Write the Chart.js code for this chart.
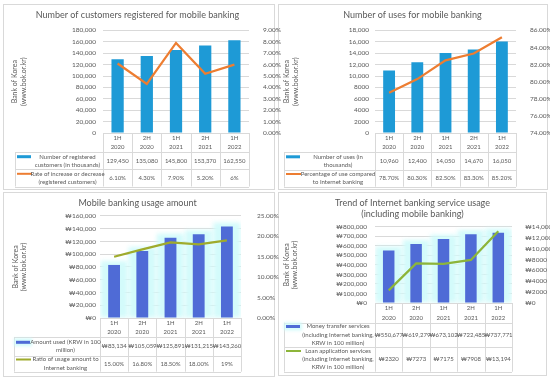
<!DOCTYPE html>
<html>
<head>
<meta charset="utf-8">
<script src="https://cdn.jsdelivr.net/npm/chart.js@4.4.0/dist/chart.umd.min.js"></script>
<style>
  body { margin: 0; background: #fff; }
  #page { position: relative; width: 550px; height: 381px; overflow: hidden; }
  .panel { position: absolute; border: 1px solid #d9d9d9; box-sizing: border-box; }
  canvas { position: absolute; left: 0; top: 0; }
</style>
</head>
<body>
<div id="page">
  <div class="panel" style="left:3px;top:4px;width:272px;height:186px"></div>
  <div class="panel" style="left:278px;top:4px;width:270px;height:186px"></div>
  <div class="panel" style="left:3px;top:192px;width:272px;height:185px"></div>
  <div class="panel" style="left:278px;top:192px;width:269px;height:184px"></div>
  <canvas id="customersChart" width="550" height="381"></canvas>
  <canvas id="usesChart" width="550" height="381"></canvas>
  <canvas id="amountChart" width="550" height="381"></canvas>
  <canvas id="serviceChart" width="550" height="381"></canvas>
</div>
<script>
const periods = [['1H', '2020'], ['2H', '2020'], ['1H', '2021'], ['2H', '2021'], ['1H', '2022']];
const registeredCustomers = ['129,450', '135,080', '145,800', '153,370', '162,550'];
const registeredRate = ['6.10%', '4.30%', '7.90%', '5.20%', '6%'];
const usesCount = ['10,960', '12,400', '14,050', '14,670', '16,050'];
const usesShare = ['78.70%', '80.30%', '82.50%', '83.30%', '85.20%'];
const amountUsed = ['₩83,134', '₩105,059', '₩125,891', '₩131,215', '₩143,260'];
const amountRatio = ['15.00%', '16.80%', '18.50%', '18.00%', '19%'];
const transferServices = ['₩550,677', '₩619,279', '₩673,102', '₩722,485', '₩737,771'];
const loanServices = ['₩2320', '₩7273', '₩7175', '₩7908', '₩13,194'];

const GRAY = '#595959';
const GRID = '#d9d9d9';
const FONT = 'Lato, Carlito, sans-serif';
const TABLE_FONT = 6;
const PAGE_W = 550, PAGE_H = 381, QUAD_W = 275;
const SPILL = 15; // folga dos dois lados para os rótulos dos eixos não serem cortados

Chart.defaults.font.family = FONT;
Chart.defaults.color = GRAY;

function num(s) {
    return parseFloat(s.replace(/[^\d.]/g, ''));
}
function thousands(v) {
    return v >= 10000 ? v.toLocaleString('en-US') : String(v);
}
const pct = v => v.toFixed(2) + '%';
const won = v => '₩' + thousands(v);

// Brilho ciano atrás das colunas (gráficos de baixo)
const barGlow = {
    id: 'barGlow',
    beforeDatasetDraw(chart, args, opts) {
        if (!opts.color || args.meta.type !== 'bar') return;
        const { ctx, chartArea: area } = chart;
        ctx.save();
        ctx.beginPath();
        ctx.rect(area.left, area.top - 20, area.right - area.left, area.bottom - area.top + 20);
        ctx.clip();
        ctx.filter = 'blur(2px)';
        ctx.fillStyle = opts.color;
        args.meta.data.forEach(bar => {
            const { x, y, base, width } = bar.getProps(['x', 'y', 'base', 'width']);
            ctx.fillRect(x - width * 1.15, y - 4, width * 2.3, base - y + 4);
        });
        ctx.restore();
    }
};

// Tabela de dados embaixo do gráfico, alinhada com a escala x
const dataTable = {
    id: 'dataTable',
    afterDraw(chart, args, opts) {
        const { ctx, chartArea: area, scales: { x } } = chart;
        const labels = chart.data.labels;
        const cellW = (area.right - area.left) / labels.length;
        const rows = opts.rows;
        const last = rows[rows.length - 1];
        const px = v => Math.round(v) + 0.5;

        ctx.save();
        ctx.strokeStyle = GRID;
        ctx.lineWidth = 1;
        ctx.beginPath();
        ctx.moveTo(area.left, px(area.bottom));
        ctx.lineTo(area.right, px(area.bottom));
        rows.forEach(y => {
            ctx.moveTo(opts.legendLeft, px(y));
            ctx.lineTo(area.right, px(y));
        });
        for (let i = 0; i <= labels.length; i++) {
            const vx = px(area.left + i * cellW);
            ctx.moveTo(vx, area.bottom);
            ctx.lineTo(vx, last);
        }
        ctx.moveTo(px(opts.legendLeft), rows[0]);
        ctx.lineTo(px(opts.legendLeft), last);
        ctx.stroke();

        ctx.fillStyle = GRAY;
        ctx.font = TABLE_FONT + 'px ' + FONT;
        ctx.textAlign = 'center';
        ctx.textBaseline = 'middle';

        // cabeçalho: períodos
        const hMid = (area.bottom + rows[0]) / 2;
        labels.forEach((lab, i) => {
            const cx = x.getPixelForValue(i);
            lab.forEach((t, j) => ctx.fillText(t, cx, hMid + (j - (lab.length - 1) / 2) * 9.5));
        });

        // linhas de cada série
        const lh = 8.2;
        chart.data.datasets.forEach((ds, r) => {
            const mid = (rows[r] + rows[r + 1]) / 2;
            const lines = ds.tableLabel;
            const firstY = mid - (lines.length - 1) / 2 * lh;
            const mx = opts.legendLeft + 2;

            ctx.save();
            if (ds.type === 'bar') {
                if (opts.glow) {
                    ctx.fillStyle = opts.glow;
                    ctx.filter = 'blur(1.5px)';
                    ctx.fillRect(mx - 2, firstY - 4, 18, 8);
                    ctx.filter = 'none';
                }
                ctx.fillStyle = ds.backgroundColor;
                ctx.fillRect(mx, firstY - 1.5, 14, 3);
            } else {
                ctx.strokeStyle = ds.borderColor;
                ctx.lineWidth = 2;
                ctx.beginPath();
                ctx.moveTo(mx, firstY);
                ctx.lineTo(mx + 15, firstY);
                ctx.stroke();
            }
            ctx.restore();

            const tx = (mx + 15 + area.left) / 2;
            lines.forEach((t, j) => ctx.fillText(t, tx, firstY + j * lh));
            ds.tableText.forEach((t, i) => ctx.fillText(t, x.getPixelForValue(i), mid));
        });
        ctx.restore();
    }
};

Chart.register(barGlow, dataTable);

function makeChart(id, cfg) {
    const ctx = document.getElementById(id).getContext('2d');
    const [x0, y0] = cfg.origin;
    const padLeft = x0 - SPILL;
    const padRight = PAGE_W - x0 - QUAD_W - SPILL;
    return new Chart(ctx, {
        type: 'bar',
        data: {
            labels: periods,
            datasets: [{
                type: 'bar',
                data: cfg.bars.map(num),
                backgroundColor: cfg.barColor,
                barPercentage: 0.42,
                categoryPercentage: 1,
                yAxisID: 'y',
                order: 1,
                tableLabel: cfg.barLabel,
                tableText: cfg.bars
            }, {
                type: 'line',
                data: cfg.line.map(num),
                borderColor: cfg.lineColor,
                borderWidth: 2.25,
                pointRadius: 0,
                tension: 0,
                yAxisID: 'y1',
                order: 0,
                tableLabel: cfg.lineLabel,
                tableText: cfg.line
            }]
        },
        options: {
            responsive: false,
            animation: false,
            events: [],
            layout: {
                padding: { left: padLeft, right: padRight, top: y0, bottom: PAGE_H - cfg.area.bottom }
            },
            plugins: {
                legend: { display: false },
                tooltip: { enabled: false },
                title: {
                    display: true,
                    text: cfg.title,
                    color: GRAY,
                    font: { size: 9, weight: 'normal', lineHeight: 1.2 },
                    padding: { top: cfg.titlePad[0], bottom: cfg.titlePad[1] }
                },
                barGlow: { color: cfg.glow },
                dataTable: { legendLeft: cfg.legendLeft, rows: cfg.rows, glow: cfg.glow }
            },
            scales: {
                x: { display: false },
                y: {
                    position: 'left',
                    min: cfg.left.min,
                    max: cfg.left.max,
                    ticks: {
                        stepSize: cfg.left.step,
                        autoSkip: false,
                        padding: cfg.left.pad,
                        font: { size: 6.5 },
                        color: GRAY,
                        callback: cfg.left.fmt
                    },
                    grid: { color: GRID, drawTicks: false },
                    border: { display: false },
                    title: {
                        display: true,
                        text: ['Bank of Korea', '(www.bok.or.kr)'],
                        color: GRAY,
                        font: { size: 7, lineHeight: 1.2 },
                        padding: { top: cfg.axisTitlePad + SPILL, bottom: 0 }
                    },
                    afterFit: s => { s.width = cfg.area.left - padLeft; }
                },
                y1: {
                    position: 'right',
                    min: cfg.right.min,
                    max: cfg.right.max,
                    ticks: {
                        stepSize: cfg.right.step,
                        autoSkip: false,
                        padding: cfg.right.pad,
                        font: { size: 6.5 },
                        color: GRAY,
                        callback: cfg.right.fmt
                    },
                    grid: { display: false },
                    border: { display: false },
                    afterFit: s => { s.width = PAGE_W - padRight - cfg.area.right; }
                }
            }
        }
    });
}

// Primeiro gráfico: clientes registrados
makeChart('customersChart', {
    origin: [0, 0],
    title: 'Number of customers registered for mobile banking',
    titlePad: [10, 9.6],
    area: { left: 103, right: 249, bottom: 133 },
    rows: [152.3, 169.3, 186.5],
    legendLeft: 15,
    axisTitlePad: 10.8,
    bars: registeredCustomers,
    line: registeredRate,
    barColor: '#1e9ad6',
    lineColor: '#ed7d31',
    barLabel: ['Number of registered', 'customers (in thousands)'],
    lineLabel: ['Rate of increase or decrease', '(registered customers)'],
    left: { min: 0, max: 180000, step: 20000, pad: 7, fmt: thousands },
    right: { min: 0, max: 9, step: 1, pad: 6, fmt: pct }
});

// Segundo gráfico: número de usos
makeChart('usesChart', {
    origin: [275, 0],
    title: 'Number of uses for mobile banking',
    titlePad: [10, 9.6],
    area: { left: 375, right: 516, bottom: 133 },
    rows: [152.3, 169.5, 186.7],
    legendLeft: 284,
    axisTitlePad: 7.8,
    bars: usesCount,
    line: usesShare,
    barColor: '#1e9ad6',
    lineColor: '#ed7d31',
    barLabel: ['Number of uses (in', 'thousands)'],
    lineLabel: ['Percentage of use compared', 'to Internet banking'],
    left: { min: 0, max: 18000, step: 2000, pad: 6, fmt: thousands },
    right: { min: 74, max: 86, step: 2, pad: 6, fmt: pct }
});

// Terceiro gráfico: valor utilizado
makeChart('amountChart', {
    origin: [0, 190],
    title: 'Mobile banking usage amount',
    titlePad: [7.6, 7.5],
    area: { left: 100, right: 241, bottom: 318 },
    rows: [337.3, 355.5, 371.7],
    legendLeft: 14,
    axisTitlePad: 11.5,
    bars: amountUsed,
    line: amountRatio,
    barColor: '#4f6bd6',
    lineColor: '#9fab2c',
    glow: '#d3fbfb',
    barLabel: ['Amount used (KRW in 100', 'million)'],
    lineLabel: ['Ratio of usage amount to', 'Internet banking'],
    left: { min: 0, max: 160000, step: 20000, pad: 4, fmt: won },
    right: { min: 0, max: 25, step: 5, pad: 8, fmt: pct }
});

// Quarto gráfico: serviços de internet banking
makeChart('serviceChart', {
    origin: [275, 190],
    title: ['Trend of Internet banking service usage', '(including mobile banking)'],
    titlePad: [7.6, 7.6],
    area: { left: 375, right: 512, bottom: 303 },
    rows: [322.7, 346.7, 371.7],
    legendLeft: 284,
    axisTitlePad: 7.5,
    bars: transferServices,
    line: loanServices,
    barColor: '#4f6bd6',
    lineColor: '#8db53a',
    glow: '#d3fbfb',
    barLabel: ['Money transfer services', '(including Internet banking,', 'KRW in 100 million)'],
    lineLabel: ['Loan application services', '(including Internet banking,', 'KRW in 100 million)'],
    left: { min: 0, max: 800000, step: 100000, pad: 8, fmt: won },
    right: { min: 0, max: 14000, step: 2000, pad: 5, fmt: won }
});
</script>
</body>
</html>
